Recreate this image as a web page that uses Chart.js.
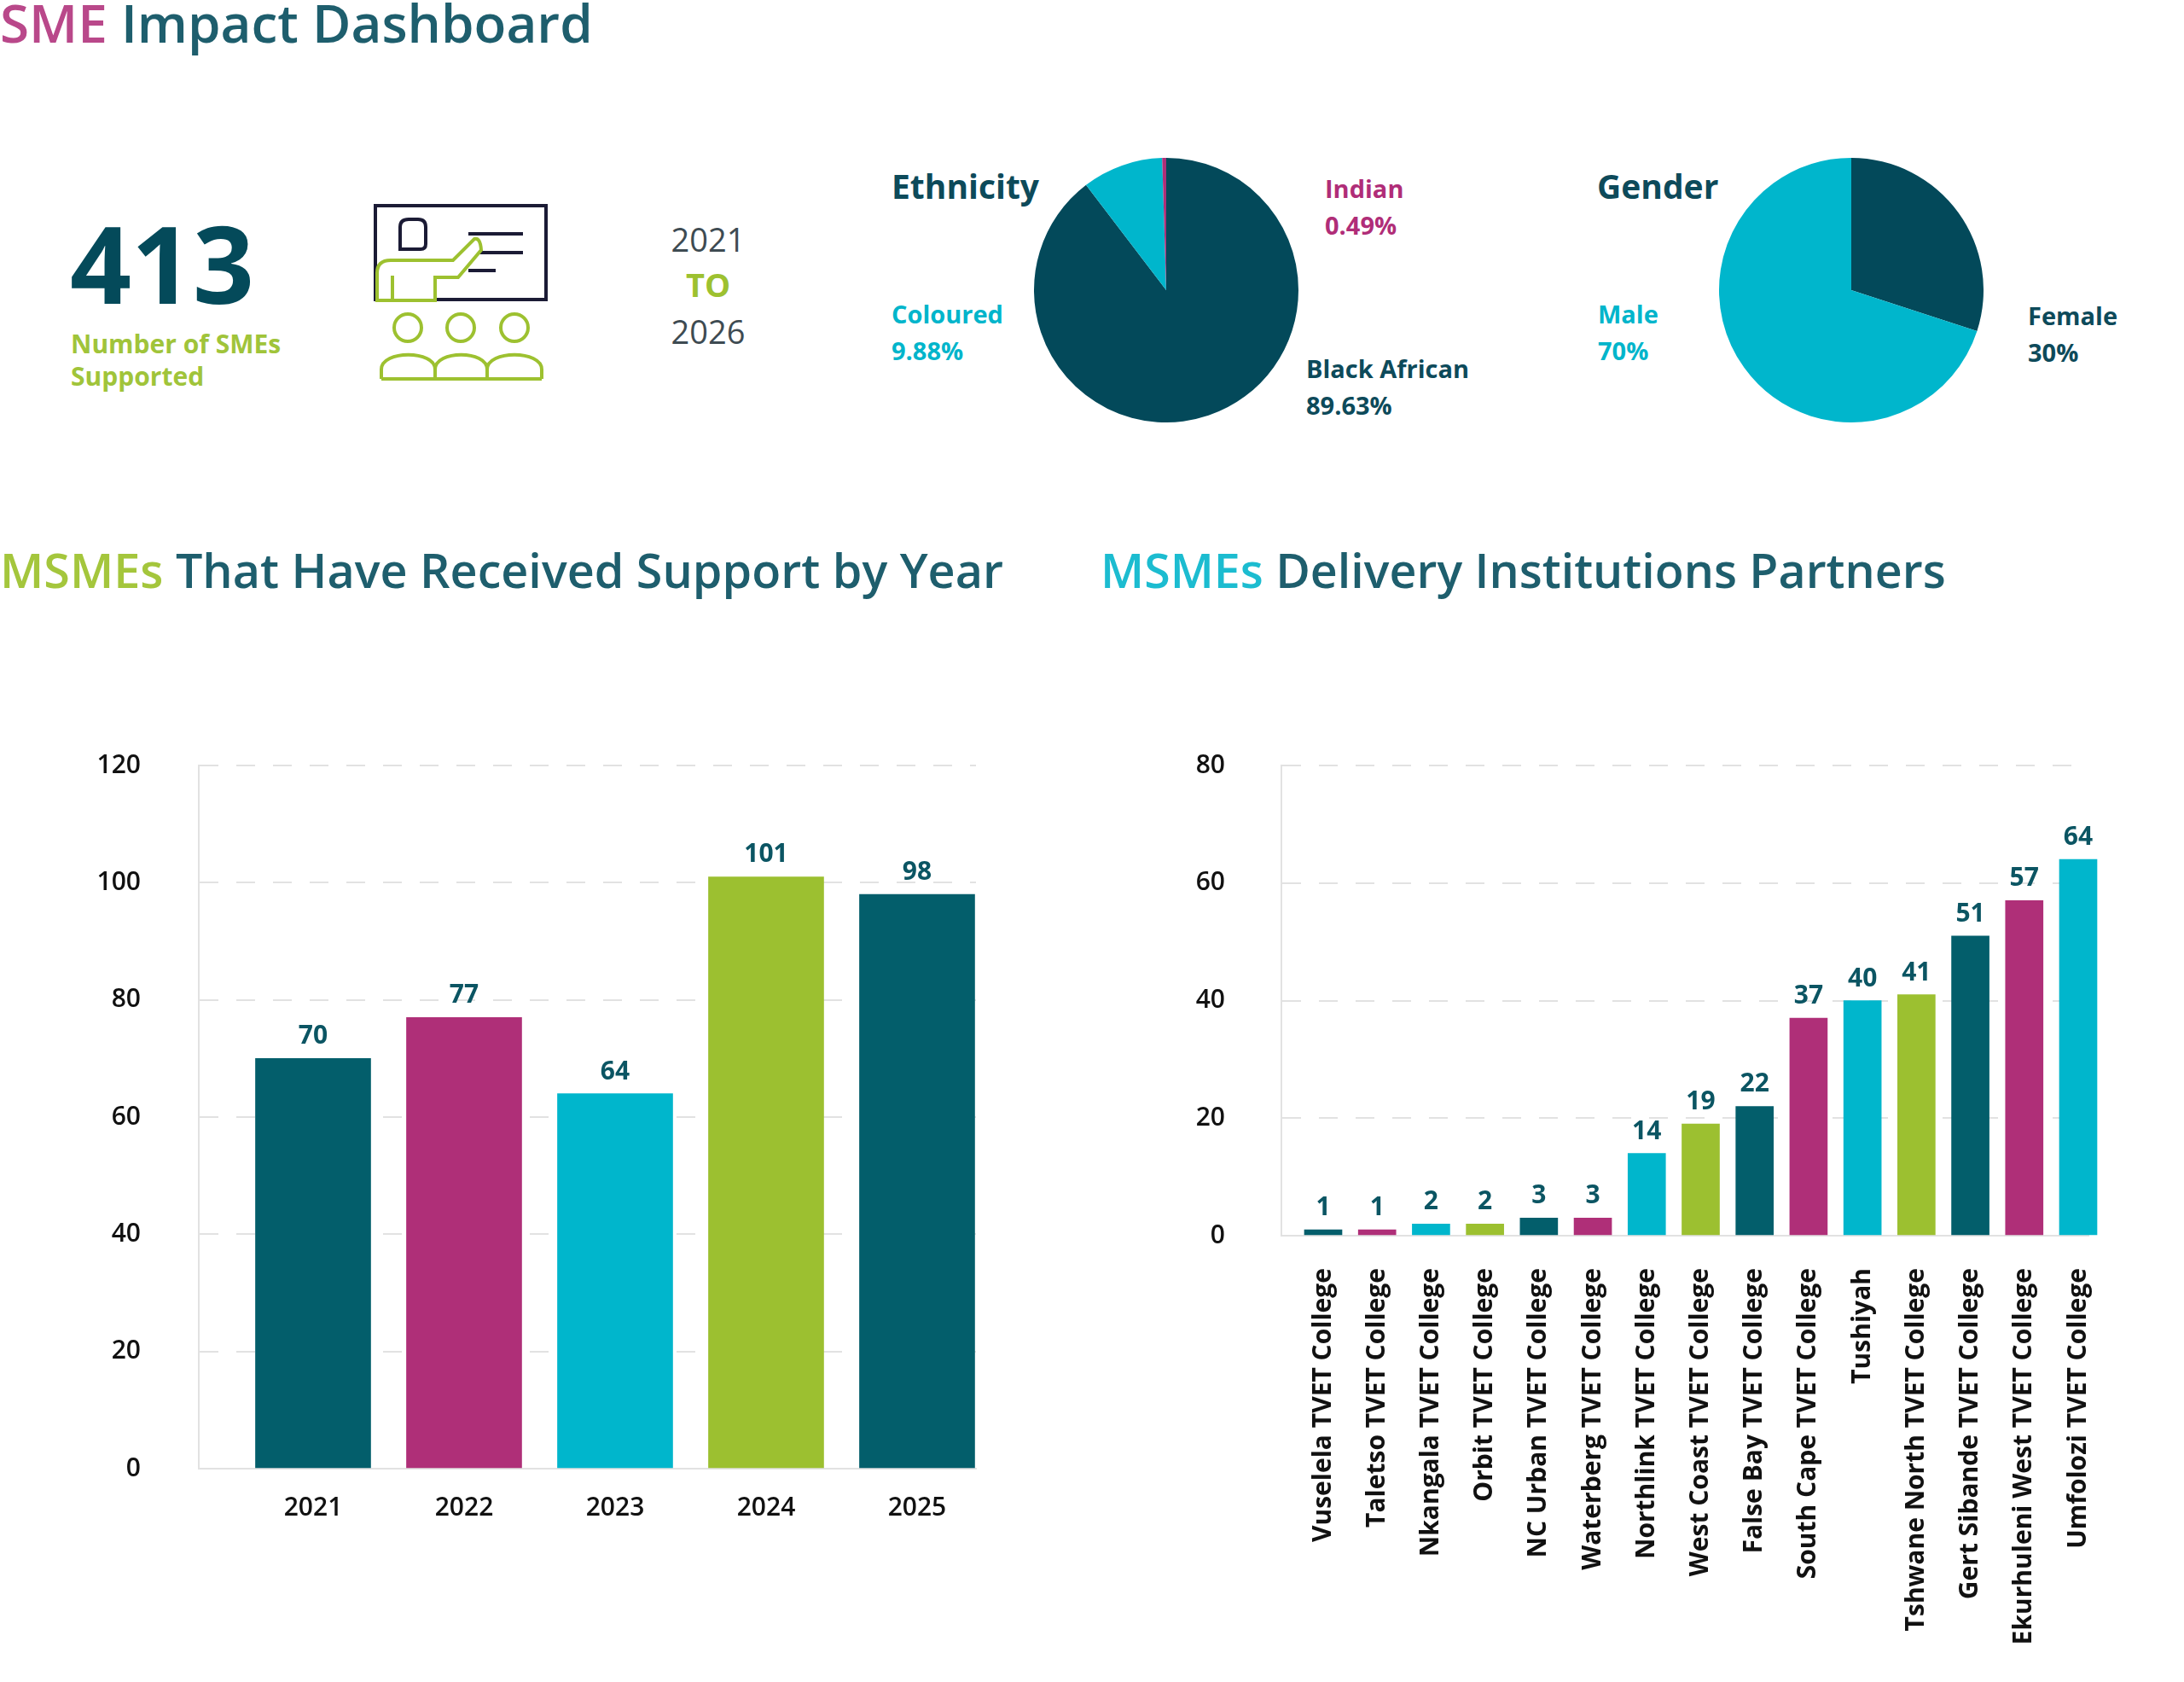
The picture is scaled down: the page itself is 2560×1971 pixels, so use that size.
<!DOCTYPE html>
<html>
<head>
<meta charset="utf-8">
<title>SME Impact Dashboard</title>
<script src="https://cdn.jsdelivr.net/npm/chart.js@4.4.1/dist/chart.umd.min.js"></script>
<style>
  html, body { margin: 0; padding: 0; background: #fff; }
  body { width: 2560px; height: 1971px; position: relative; overflow: hidden; font-family: 'Open Sans', sans-serif; }
  .t { position: absolute; white-space: nowrap; line-height: 1; }
  .lbl { position: absolute; white-space: nowrap; font-size: 29px; line-height: 43px; font-weight: 700; }
  canvas { position: absolute; }
</style>
</head>
<body>

<div class="t" style="left:0; top:-5px; font-size:62px; font-weight:600; color:#1e5e6d;"><span style="color:#b9488a">SME</span> Impact Dashboard</div>

<div class="t" style="left:82px; top:244px; font-size:126px; font-weight:700; color:#044a5a;">413</div>
<div class="t" style="left:83px; top:384px; font-size:30px; line-height:38px; font-weight:700; color:#a0c43a;">Number of SMEs<br>Supported</div>

<svg style="position:absolute; left:0; top:0;" width="700" height="500" viewBox="0 0 700 500">
  <g fill="none" stroke="#1b1b35" stroke-width="4">
    <rect x="440" y="241" width="200" height="110"/>
    <path d="M469,292 L469,266 Q469,257 479,257 L490,257 Q499,257 499,266 L499,286 Q499,292 493,292 Z"/>
    <line x1="549" y1="274" x2="613" y2="274"/>
    <line x1="549" y1="296" x2="613" y2="296"/>
    <line x1="549" y1="317" x2="581" y2="317"/>
  </g>
  <g fill="none" stroke="#9dc130" stroke-width="4">
    <path fill="#fff" d="M442,352 L442,320 Q442,305 458,305 L531,305 L556,280 Q563,278 564,293 L537,325 L510,325 L510,352 Z"/>
    <line x1="460" y1="323" x2="460" y2="352"/>
    <circle cx="478" cy="384" r="16"/>
    <circle cx="540" cy="384" r="16"/>
    <circle cx="603" cy="384" r="16"/>
    <path d="M447,444 L447,433 C447,410 510,410 510,433 L510,444"/>
    <path d="M510,444 L510,433 C510,410 571,410 571,433 L571,444"/>
    <path d="M571,444 L571,433 C571,410 635,410 635,433 L635,444"/>
    <line x1="447" y1="444" x2="635" y2="444"/>
  </g>
</svg>

<div class="t" style="left:770px; width:120px; text-align:center; top:261px; font-size:38px; color:#3e4b52;">2021</div>
<div class="t" style="left:770px; width:120px; text-align:center; top:314px; font-size:38px; font-weight:700; color:#9dc130;">TO</div>
<div class="t" style="left:770px; width:120px; text-align:center; top:369px; font-size:38px; color:#3e4b52;">2026</div>

<div class="t" style="left:1045px; top:198px; font-size:39px; font-weight:700; color:#0d4a5a;">Ethnicity</div>
<div class="lbl" style="left:1553px; top:199px; color:#b02d78;">Indian<br>0.49%</div>
<div class="lbl" style="left:1045px; top:346px; color:#00b5cb;">Coloured<br>9.88%</div>
<div class="lbl" style="left:1531px; top:410px; color:#0d4a5a;">Black African<br>89.63%</div>

<div class="t" style="left:1872px; top:198px; font-size:39px; font-weight:700; color:#0d4a5a;">Gender</div>
<div class="lbl" style="left:1873px; top:346px; color:#00b5cb;">Male<br>70%</div>
<div class="lbl" style="left:2377px; top:348px; color:#0d4a5a;">Female<br>30%</div>

<div class="t" style="left:0; top:640px; font-size:55.7px; font-weight:600; color:#1e5e6d;"><span style="color:#a4c63c">MSMEs</span> That Have Received Support by Year</div>
<div class="t" style="left:1290px; top:640px; font-size:55.5px; font-weight:600; color:#1e5e6d;"><span style="color:#1cbcd0">MSMEs</span> Delivery Institutions Partners</div>

<canvas id="pieEthnicity" width="310" height="310" style="left:1212px; top:185px;"></canvas>
<canvas id="pieGender" width="310" height="310" style="left:2015px; top:185px;"></canvas>
<canvas id="barYears" width="1160" height="971" style="left:0; top:850px;"></canvas>
<canvas id="barColleges" width="1168" height="1121" style="left:1300px; top:850px;"></canvas>

<script>
const ethnicityLabels = ["Black African", "Coloured", "Indian"];
const ethnicityValues = [89.63, 9.88, 0.49];

const genderLabels = ["Female", "Male"];
const genderValues = [30, 70];

const years = ["2021", "2022", "2023", "2024", "2025"];
const yearValues = [70, 77, 64, 101, 98];

const colleges = [
    "Vuselela TVET College", "Taletso TVET College", "Nkangala TVET College",
    "Orbit TVET College", "NC Urban TVET College", "Waterberg TVET College",
    "Northlink TVET College", "West Coast TVET College", "False Bay TVET College",
    "South Cape TVET College", "Tushiyah", "Tshwane North TVET College",
    "Gert Sibande TVET College", "Ekurhuleni West TVET College", "Umfolozi TVET College"
];
const collegeValues = [1, 1, 2, 2, 3, 3, 14, 19, 22, 37, 40, 41, 51, 57, 64];

const yearTicks = [0, 20, 40, 60, 80, 100, 120];
const collegeTicks = [0, 20, 40, 60, 80];

const TEAL = "#035e6b", MAGENTA = "#af2f78", CYAN = "#00b6cc", GREEN = "#9cc030";
const PIE_DARK = "#03495a";
const cycle = [TEAL, MAGENTA, CYAN, GREEN];

Chart.defaults.font.family = "'Open Sans', sans-serif";
Chart.defaults.animation = false;
Chart.defaults.events = [];
Chart.defaults.plugins.legend.display = false;
Chart.defaults.plugins.tooltip.enabled = false;

function makePie(id, labels, values, colors) {
    new Chart(document.getElementById(id), {
        type: "pie",
        data: {
            labels: labels,
            datasets: [{ data: values, backgroundColor: colors, borderWidth: 0, hoverOffset: 0 }]
        },
        options: { responsive: false, layout: { padding: 0 } }
    });
}

makePie("pieEthnicity", ethnicityLabels, ethnicityValues, [PIE_DARK, CYAN, MAGENTA]);
makePie("pieGender", genderLabels, genderValues, [PIE_DARK, CYAN]);

// value labels above each bar
const valueLabels = {
    id: "valueLabels",
    afterDatasetsDraw(chart) {
        const ctx = chart.ctx;
        const meta = chart.getDatasetMeta(0);
        const data = chart.data.datasets[0].data;
        ctx.save();
        ctx.font = "700 30px 'Open Sans', sans-serif";
        ctx.fillStyle = "#0b5563";
        ctx.textAlign = "center";
        ctx.textBaseline = "alphabetic";
        meta.data.forEach((bar, i) => {
            ctx.fillText(String(data[i].y), bar.x, bar.y - 17);
        });
        ctx.restore();
    }
};

function makeBars(id, labels, values, ticks, opts) {
    const points = values.map((v, i) => ({ x: i, y: v }));
    new Chart(document.getElementById(id), {
        type: "bar",
        data: {
            datasets: [{
                data: points,
                backgroundColor: values.map((v, i) => cycle[i % cycle.length]),
                borderWidth: 0,
                barThickness: opts.barWidth,
                clip: false
            }]
        },
        options: {
            responsive: false,
            layout: { padding: { top: 47, right: opts.padRight, left: 0, bottom: 0 } },
            scales: {
                x: {
                    type: "linear",
                    offset: false,
                    min: opts.xMin,
                    max: opts.xMax,
                    afterBuildTicks: s => { s.ticks = labels.map((l, i) => ({ value: i })); },
                    afterFit: s => {
                        s.height = opts.xHeight;
                        s.paddingLeft = 0;
                        s.paddingRight = 0;
                    },
                    grid: { display: false, drawTicks: false, offset: false },
                    border: { display: true, color: "#e2e2e2", width: 2 },
                    ticks: {
                        autoSkip: false,
                        minRotation: opts.rotation,
                        maxRotation: opts.rotation,
                        padding: opts.xPad,
                        color: "#111",
                        font: { size: opts.xFont, weight: opts.xWeight },
                        callback: v => labels[v]
                    }
                },
                y: {
                    min: ticks[0],
                    max: ticks[ticks.length - 1],
                    afterBuildTicks: s => { s.ticks = ticks.map(t => ({ value: t })); },
                    afterFit: s => {
                        s.width = opts.yWidth;
                        s.paddingTop = 0;
                        s.paddingBottom = 0;
                    },
                    grid: { color: "#e2e2e2", lineWidth: 2, drawTicks: false },
                    border: { display: true, color: "#e2e2e2", width: 2, dash: [22, 21] },
                    ticks: { padding: opts.yPad, color: "#111", font: { size: 30, weight: 600 } }
                }
            }
        },
        plugins: [valueLabels]
    });
}

makeBars("barYears", years, yearValues, yearTicks, {
    barWidth: 135, xMin: -0.757, xMax: 4.39, padRight: 16,
    xHeight: 100, rotation: 0, xPad: 28, xFont: 30, xWeight: 600, yWidth: 233, yPad: 68
});

makeBars("barColleges", colleges, collegeValues, collegeTicks, {
    barWidth: 44, xMin: -0.775, xMax: 14.19, padRight: 20,
    xHeight: 523, rotation: 90, xPad: 38, xFont: 30, xWeight: 700, yWidth: 202, yPad: 66
});
</script>
</body>
</html>
